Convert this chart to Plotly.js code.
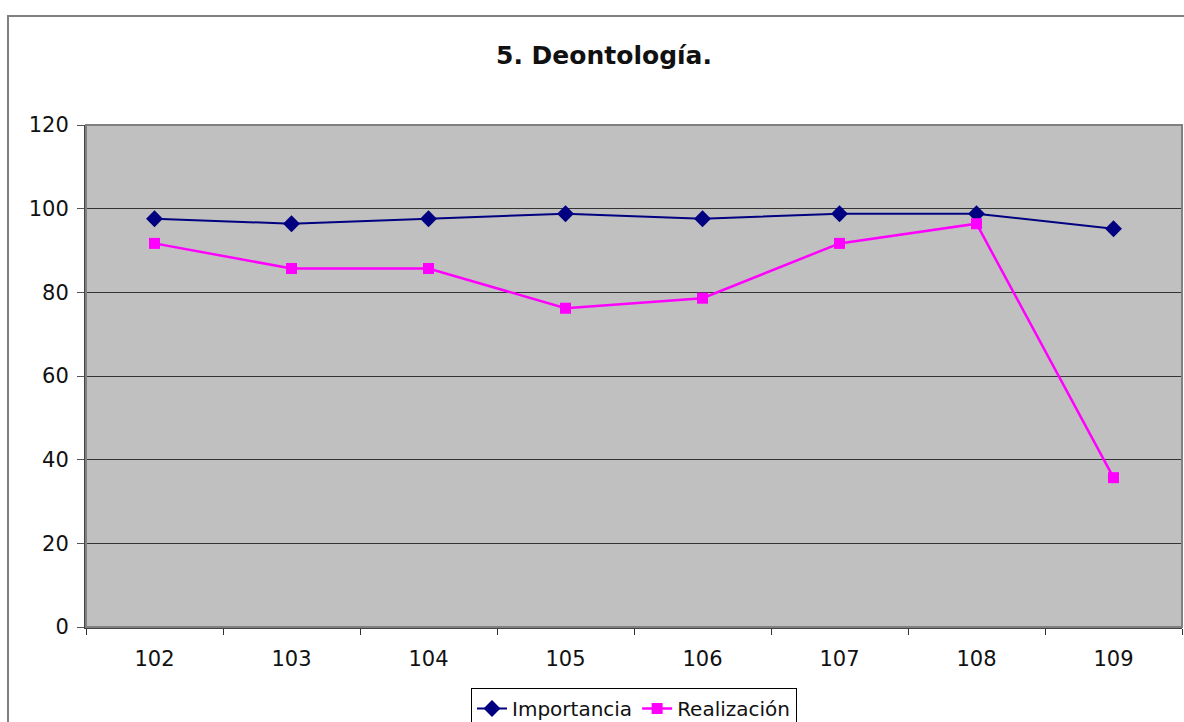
<!DOCTYPE html>
<html>
<head>
<meta charset="utf-8">
<script src="https://cdn.plot.ly/plotly-3.0.1.min.js"></script>
<style>html,body{margin:0;padding:0;background:#fff;}#chart{width:1184px;height:722px;}</style>
</head>
<body>
<div id="chart"></div>
<script>
const categories = ["102", "103", "104", "105", "106", "107", "108", "109"];
const importancia = [97.6, 96.4, 97.6, 98.8, 97.6, 98.8, 98.8, 95.2];
const realizacion = [91.7, 85.7, 85.7, 76.2, 78.6, 91.7, 96.4, 35.7];
const yTicks = [0, 20, 40, 60, 80, 100, 120];

const W = 1184, H = 722;
const mL = 86, mR = 2, mT = 125, mB = 95;
const pw = W - mL - mR, ph = H - mT - mB;
const px = x => (x - mL) / pw;
const py = y => 1 - (y - mT) / ph;

const font = "DejaVu Sans, Verdana, sans-serif";

const traces = [
  {
    x: categories, y: importancia, name: "Importancia", type: "scatter", mode: "lines+markers",
    line: {color: "#000080", width: 2},
    marker: {symbol: "diamond", size: 13, color: "#000080"}
  },
  {
    x: categories, y: realizacion, name: "Realización", type: "scatter", mode: "lines+markers",
    line: {color: "#FF00FF", width: 2.5},
    marker: {symbol: "square", size: 11, color: "#FF00FF"}
  }
];

const layout = {
  width: W, height: H,
  margin: {l: mL, r: mR, t: mT, b: mB, pad: 0, autoexpand: false},
  paper_bgcolor: "#ffffff",
  plot_bgcolor: "#C0C0C0",
  font: {family: font, size: 21, color: "#000"},
  title: {text: "<b>5. Deontología.</b>", font: {family: font, size: 25, color: "#111"},
          x: 604 / W, xanchor: "center", y: 1 - 55 / H, yanchor: "middle"},
  showlegend: true,
  legend: {orientation: "h", x: px(634), xanchor: "center", y: py(688), yanchor: "top",
           bordercolor: "#000", borderwidth: 1, bgcolor: "#fff",
           font: {family: font, size: 20, color: "#111"},
           tracegroupgap: 0},
  xaxis: {
    type: "category", range: [-0.5, 7.5], tickson: "boundaries",
    ticks: "outside", ticklen: 6, tickcolor: "#333", tickwidth: 1,
    showline: true, linecolor: "#444", linewidth: 2,
    showgrid: false, zeroline: false,
    tickfont: {family: font, size: 21, color: "#111"}, ticklabelstandoff: 12,
    fixedrange: true
  },
  yaxis: {
    range: [0, 120], tickvals: yTicks, ticktext: yTicks.map(String),
    ticks: "outside", ticklen: 7, tickcolor: "#555", tickwidth: 1,
    showline: true, linecolor: "#444", linewidth: 2,
    showgrid: true, gridcolor: "#333", gridwidth: 1, zeroline: false,
    tickfont: {family: font, size: 21, color: "#111"}, ticklabelstandoff: 4,
    fixedrange: true
  },
  shapes: [
    {type: "rect", xref: "paper", yref: "paper", x0: px(8), x1: px(1200), y0: py(740), y1: py(16),
     line: {color: "#808080", width: 2}, fillcolor: "rgba(0,0,0,0)", layer: "below"},
    {type: "rect", xref: "paper", yref: "paper", x0: 0, x1: 1, y0: 0, y1: 1,
     line: {color: "#808080", width: 2}, fillcolor: "rgba(0,0,0,0)", layer: "above"}
  ]
};

Plotly.newPlot("chart", traces, layout, {displayModeBar: false, staticPlot: true});
</script>
</body>
</html>
